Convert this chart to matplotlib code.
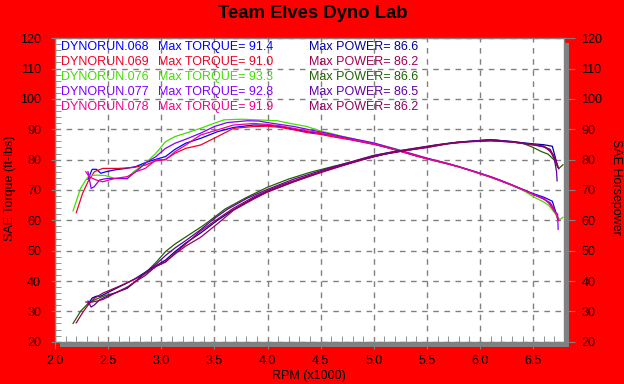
import matplotlib
matplotlib.use('Agg')
import matplotlib.pyplot as plt
from matplotlib.patches import Rectangle
from matplotlib.ticker import MultipleLocator, FormatStrFormatter

plt.rcParams['font.family'] = ['Liberation Sans', 'DejaVu Sans']

# ---------------- data ----------------
run_names = ['DYNORUN.068', 'DYNORUN.069', 'DYNORUN.076', 'DYNORUN.077', 'DYNORUN.078']
max_torque = [91.4, 91.0, 93.3, 92.8, 91.9]
max_power = [86.6, 86.2, 86.6, 86.5, 86.2]

torque_colors = ['#0000FF', '#F00028', '#44DD00', '#8000FF', '#F00090']
power_colors = ['#0000A0', '#A00050', '#206000', '#6000A0', '#900060']

# run 068
t068_rpm = [2.31, 2.35, 2.39, 2.43, 2.48, 2.56, 2.67, 2.76, 2.85, 2.95, 3.04, 3.13, 3.23, 3.37, 3.53, 3.68,
            3.87, 4.0, 4.12, 4.25, 4.37, 4.5, 4.6, 4.7, 4.8, 4.9, 5.0, 5.1, 5.2, 5.3, 5.4, 5.5, 5.6, 5.7,
            5.8, 5.9, 6.0, 6.1, 6.2, 6.3, 6.4, 6.5, 6.6, 6.68, 6.71, 6.73]
t068 = [73.5, 76.8, 76.8, 75.5, 76.0, 76.6, 77.1, 77.7, 79.0, 80.1, 81.0, 83.4, 85.4, 87.0, 89.2, 90.6,
        91.4, 91.3, 90.9, 90.0, 89.2, 88.6, 88.0, 87.3, 86.6, 85.9, 85.2, 84.2, 83.3, 82.3, 81.2, 80.4,
        79.4, 78.6, 77.6, 76.6, 75.5, 74.3, 73.0, 71.6, 70.2, 68.8, 67.6, 66.3, 63.0, 60.5]
p068_rpm = [2.31, 2.35, 2.39, 2.43, 2.48, 2.56, 2.67, 2.76, 2.85, 2.95, 3.04, 3.13, 3.23, 3.37, 3.53, 3.68,
            3.87, 4.0, 4.25, 4.5, 4.7, 4.9, 5.1, 5.3, 5.5, 5.7, 5.9, 6.0, 6.1, 6.3, 6.5, 6.6, 6.68, 6.71, 6.73]
p068 = [32.3, 34.4, 35.0, 35.0, 35.9, 37.3, 39.2, 40.9, 42.9, 45.0, 46.9, 49.7, 52.5, 55.8, 60.0, 63.5,
        67.3, 69.5, 72.8, 75.9, 78.1, 80.1, 81.8, 83.0, 84.0, 85.3, 86.0, 86.3, 86.6, 85.9, 85.2, 84.9,
        84.4, 80.5, 77.5]

# run 069
t069_rpm = [2.20, 2.26, 2.31, 2.37, 2.45, 2.60, 2.74, 2.85, 2.95, 3.04, 3.13, 3.23, 3.37, 3.53, 3.68, 3.87,
            4.0, 4.12, 4.25, 4.37, 4.5, 4.6, 4.7, 4.8, 4.9, 5.0, 5.1, 5.2, 5.3, 5.4, 5.5, 5.6, 5.7, 5.8,
            5.9, 6.0, 6.1, 6.2, 6.3, 6.4, 6.5, 6.6, 6.66, 6.7, 6.73]
t069 = [62.5, 68.9, 72.7, 76.0, 77.1, 77.1, 77.4, 78.2, 79.6, 80.1, 82.1, 83.7, 84.8, 87.6, 90.3, 90.9,
        91.0, 90.6, 89.8, 88.9, 88.3, 87.6, 87.0, 86.4, 85.7, 85.0, 84.2, 83.2, 82.2, 81.2, 80.2, 79.4,
        78.5, 77.6, 76.5, 75.3, 74.2, 72.9, 71.5, 70.0, 68.5, 67.0, 65.8, 63.5, 60.5]
p069_rpm = [2.20, 2.26, 2.31, 2.37, 2.45, 2.60, 2.74, 2.85, 2.95, 3.04, 3.13, 3.23, 3.37, 3.53, 3.68, 3.87,
            4.0, 4.25, 4.5, 4.7, 4.9, 5.1, 5.3, 5.5, 5.7, 5.9, 6.0, 6.1, 6.3, 6.5, 6.6, 6.66, 6.7, 6.73]
p069 = [26.2, 29.6, 32.0, 34.3, 36.0, 38.2, 40.4, 42.4, 44.7, 46.4, 48.9, 51.5, 54.4, 58.9, 63.3, 67.0,
        69.3, 72.7, 75.7, 77.9, 80.0, 81.8, 83.0, 84.0, 85.2, 85.9, 86.0, 86.2, 85.8, 84.8, 84.2, 83.4,
        80.8, 78.0]

# run 076
t076_rpm = [2.17, 2.24, 2.28, 2.32, 2.40, 2.48, 2.56, 2.68, 2.74, 2.85, 2.95, 3.04, 3.13, 3.23, 3.37, 3.50,
            3.59, 3.76, 3.9, 4.09, 4.2, 4.37, 4.5, 4.6, 4.7, 4.8, 4.9, 5.0, 5.1, 5.2, 5.3, 5.4, 5.5, 5.6,
            5.7, 5.8, 5.9, 6.0, 6.1, 6.2, 6.3, 6.4, 6.5, 6.6, 6.65, 6.7, 6.75, 6.78]
t076 = [63.1, 70.5, 72.7, 74.7, 74.9, 74.7, 73.8, 73.6, 76.0, 78.8, 82.1, 85.9, 87.6, 88.7, 90.3, 92.0,
        93.1, 93.3, 93.1, 92.8, 92.0, 90.9, 89.4, 88.6, 87.7, 86.9, 86.1, 85.4, 84.5, 83.6, 82.5, 81.5,
        80.4, 79.6, 78.7, 77.7, 76.6, 75.4, 74.2, 73.0, 71.6, 70.0, 67.8, 66.0, 64.8, 62.5, 60.2, 61.0]
p076_rpm = [2.17, 2.24, 2.32, 2.40, 2.48, 2.56, 2.68, 2.78, 2.86, 2.95, 3.04, 3.13, 3.23, 3.4, 3.6, 3.8,
            4.0, 4.2, 4.4, 4.6, 4.8, 5.0, 5.2, 5.4, 5.6, 5.8, 6.0, 6.1, 6.2, 6.4, 6.5, 6.58, 6.64, 6.7,
            6.74, 6.78]
p076 = [26.0, 30.0, 32.9, 34.2, 35.3, 36.0, 37.6, 40.5, 43.0, 46.1, 49.7, 52.2, 54.5, 58.4, 63.7, 67.5,
        70.9, 73.6, 75.8, 77.6, 79.3, 81.3, 82.7, 83.8, 84.9, 85.8, 86.2, 86.6, 86.2, 85.4, 84.0, 82.6,
        81.8, 79.8, 77.0, 78.3]

# run 077
t077_rpm = [2.31, 2.34, 2.37, 2.42, 2.49, 2.68, 2.78, 2.85, 2.95, 3.04, 3.13, 3.23, 3.37, 3.50, 3.62, 3.81,
            3.92, 4.0, 4.25, 4.4, 4.56, 4.7, 4.8, 4.9, 5.0, 5.1, 5.2, 5.3, 5.4, 5.5, 5.6, 5.7, 5.8, 5.9,
            6.0, 6.1, 6.2, 6.3, 6.4, 6.5, 6.6, 6.66, 6.7, 6.73, 6.735]
t077 = [76.0, 70.5, 71.1, 73.3, 73.8, 73.8, 76.6, 78.8, 81.0, 83.7, 85.4, 86.7, 88.7, 90.9, 92.2, 92.8,
        92.7, 92.2, 90.9, 89.8, 88.7, 87.6, 86.9, 86.2, 85.5, 84.5, 83.5, 82.5, 81.5, 80.5, 79.6, 78.7,
        77.7, 76.6, 75.5, 74.4, 73.1, 71.7, 70.2, 68.6, 67.0, 65.5, 63.0, 62.0, 57.0]
p077_rpm = [2.31, 2.34, 2.37, 2.42, 2.49, 2.68, 2.78, 2.85, 2.95, 3.04, 3.13, 3.23, 3.37, 3.50, 3.62, 3.81,
            4.0, 4.25, 4.56, 4.8, 5.0, 5.2, 5.4, 5.6, 5.8, 6.0, 6.1, 6.3, 6.5, 6.6, 6.66, 6.7, 6.72, 6.725]
p077 = [33.4, 31.4, 32.1, 33.8, 35.0, 37.7, 40.5, 42.8, 45.5, 48.4, 50.9, 53.3, 56.9, 60.6, 63.6, 67.3,
        70.2, 73.6, 77.0, 79.4, 81.4, 82.7, 83.8, 84.9, 85.8, 86.3, 86.5, 86.0, 85.0, 84.2, 83.0, 80.0,
        76.0, 73.0]

# run 078
t078_rpm = [2.29, 2.32, 2.385, 2.45, 2.51, 2.57, 2.68, 2.76, 2.85, 2.95, 3.04, 3.13, 3.23, 3.37, 3.53, 3.68,
            3.87, 4.0, 4.12, 4.37, 4.5, 4.6, 4.7, 4.8, 4.9, 5.0, 5.1, 5.2, 5.3, 5.4, 5.5, 5.6, 5.7, 5.8,
            5.9, 6.0, 6.1, 6.2, 6.3, 6.4, 6.5, 6.6, 6.65, 6.72, 6.74]
t078 = [76.0, 74.4, 73.3, 72.7, 73.3, 73.8, 74.4, 76.0, 77.1, 79.9, 79.9, 82.6, 84.8, 88.1, 89.8, 91.4,
        91.9, 91.6, 91.1, 89.5, 88.8, 88.0, 87.2, 86.5, 85.8, 85.1, 84.2, 83.3, 82.3, 81.3, 80.3, 79.5,
        78.6, 77.6, 76.5, 75.4, 74.2, 72.9, 71.6, 70.1, 68.6, 67.2, 65.5, 62.0, 60.0]
p078_rpm = [2.29, 2.32, 2.385, 2.45, 2.51, 2.57, 2.68, 2.76, 2.85, 2.95, 3.04, 3.13, 3.23, 3.37, 3.53, 3.68,
            3.87, 4.0, 4.12, 4.37, 4.6, 4.8, 5.0, 5.2, 5.4, 5.6, 5.8, 6.0, 6.1, 6.3, 6.5, 6.6, 6.65, 6.7,
            6.74]
p078 = [33.1, 32.9, 33.3, 33.9, 35.0, 36.1, 38.0, 39.9, 41.8, 44.9, 46.2, 49.2, 52.2, 56.5, 60.4, 64.0,
        67.7, 69.8, 71.5, 74.5, 77.1, 79.1, 81.0, 82.5, 83.6, 84.8, 85.7, 86.1, 86.2, 85.8, 84.9, 84.5,
        83.0, 81.0, 77.0]

torque_runs = [(t068_rpm, t068), (t069_rpm, t069), (t076_rpm, t076), (t077_rpm, t077), (t078_rpm, t078)]
power_runs = [(p068_rpm, p068), (p069_rpm, p069), (p076_rpm, p076), (p077_rpm, p077), (p078_rpm, p078)]

x_ticks = [2.0, 2.5, 3.0, 3.5, 4.0, 4.5, 5.0, 5.5, 6.0, 6.5]
y_ticks = [20, 30, 40, 50, 60, 70, 80, 90, 100, 110, 120]

# ---------------- layout ----------------
W, H = 624, 384
fig = plt.figure(figsize=(6.24, 3.84), dpi=100, facecolor='#FF0000')

def fx(px):
    return px / W

def fy(py):
    return 1 - py / H

L, R, T, B = 55, 564, 38.2, 341.7
GRAY = '#808080'

# drop shadow
fig.patches.append(Rectangle((fx(L + 5), fy(B + 5)), fx(R - L), (B - T) / H,
                             transform=fig.transFigure, facecolor=GRAY, edgecolor='none', zorder=-1))

ax = fig.add_axes([fx(L), fy(B), fx(R - L), (B - T) / H])
ax.set_facecolor('white')
ax.set_xlim(2.0, 6.79)
ax.set_ylim(20, 120)

for (xr, yv), c in zip(torque_runs, torque_colors):
    ax.plot(xr, yv, color=c, lw=0.9, zorder=3)
for (xr, yv), c in zip(power_runs, power_colors):
    ax.plot(xr, yv, color=c, lw=0.9, zorder=3)

ax.set_xticks(x_ticks)
ax.set_yticks(y_ticks)
ax.xaxis.set_major_formatter(FormatStrFormatter('%.1f'))
ax.xaxis.set_minor_locator(MultipleLocator(0.1))
ax.yaxis.set_minor_locator(MultipleLocator(2))
ax.grid(True, which='major', color=GRAY, linestyle=(0, (4, 4)), linewidth=1.0)
ax.set_axisbelow(True)

for sp in ax.spines.values():
    sp.set_color(GRAY)
    sp.set_linewidth(1.0)

ax.tick_params(axis='x', which='major', direction='out', length=5, color=GRAY, labelsize=9, pad=4.5)
ax.tick_params(axis='x', which='minor', direction='in', length=4, color=GRAY)
ax.tick_params(axis='y', which='major', direction='out', length=3, color=GRAY, labelsize=9, pad=7)
ax.tick_params(axis='y', which='minor', direction='in', length=4, color=GRAY, right=True)

ax2 = ax.twinx()
ax2.set_ylim(20, 120)
ax2.set_yticks(y_ticks)
ax2.yaxis.set_minor_locator(MultipleLocator(2))
ax2.tick_params(axis='y', which='major', direction='out', length=8, color=GRAY, labelsize=9, pad=4.5)
ax2.tick_params(axis='y', which='minor', direction='in', length=0)
for sp in ax2.spines.values():
    sp.set_visible(False)

# texts
fig.text(fx(312.5), fy(13), 'Team Elves Dyno Lab', ha='center', va='center',
         fontsize=13.3, fontweight='bold', color='black')
fig.text(fx(309), fy(376), 'RPM (x1000)', ha='center', va='center', fontsize=9, color='black')
fig.text(fx(10), fy(188), 'SAE Torque (ft-lbs)', ha='center', va='center', rotation=90,
         fontsize=9, color='black')
fig.text(fx(616), fy(187), 'SAE Horsepower', ha='center', va='center', rotation=270,
         fontsize=9, color='black')

for i in range(len(run_names)):
    yy = fy(46.7 + 15.0 * i)
    fig.text(fx(60.7), yy, run_names[i], ha='left', va='center', fontsize=9, color=torque_colors[i], zorder=5)
    fig.text(fx(158.3), yy, f'Max TORQUE= {max_torque[i]:.1f}', ha='left', va='center', fontsize=9,
             color=torque_colors[i], zorder=5)
    fig.text(fx(309.3), yy, f'Max POWER= {max_power[i]:.1f}', ha='left', va='center', fontsize=9,
             color=power_colors[i], zorder=5)

fig.savefig('out.png', dpi=100, facecolor=fig.get_facecolor())
